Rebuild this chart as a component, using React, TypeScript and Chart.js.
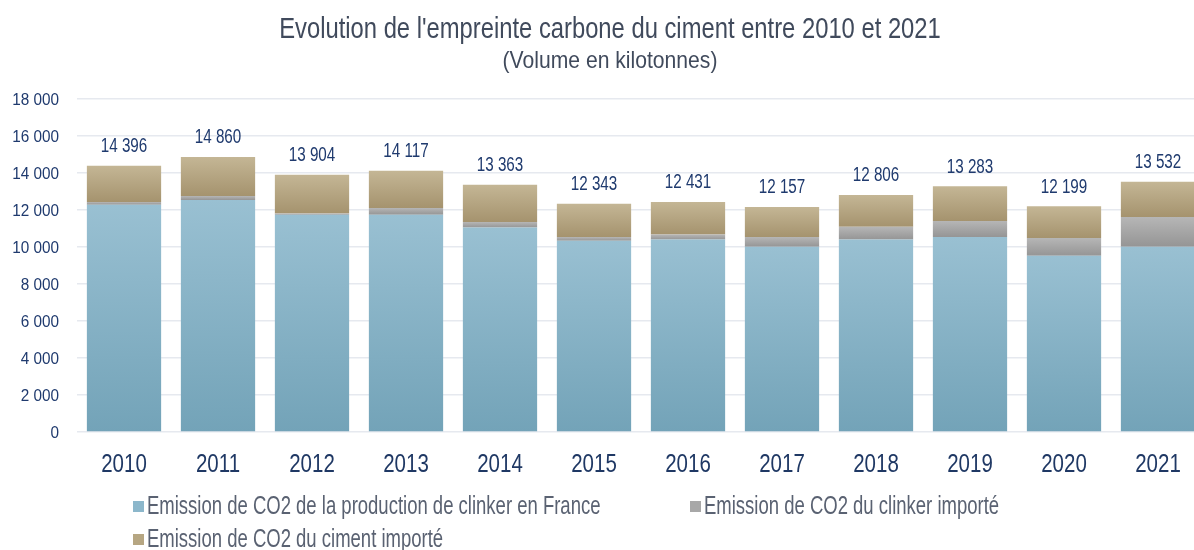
import React, { useEffect, useRef } from "react";
import { Chart, registerables } from "chart.js";

Chart.register(...registerables);

const years = ["2010", "2011", "2012", "2013", "2014", "2015", "2016", "2017", "2018", "2019", "2020", "2021"];
const clinkerFrance = [12290, 12540, 11750, 11750, 11050, 10340, 10400, 10020, 10400, 10540, 9530, 10020];
const clinkerImporte = [140, 220, 60, 360, 300, 200, 270, 520, 700, 870, 960, 1600];
const cimentImporte = [1966, 2100, 2094, 2007, 2013, 1803, 1761, 1617, 1706, 1873, 1709, 1912];
const totals = [14396, 14860, 13904, 14117, 13363, 12343, 12431, 12157, 12806, 13283, 12199, 13532];

const seriesLabels = [
  "Emission de CO2 de la production de clinker en France",
  "Emission de CO2 du clinker importé",
  "Emission de CO2 du ciment importé",
];
const titleText = "Evolution de l'empreinte carbone du ciment entre 2010 et 2021";
const subtitleText = "(Volume en kilotonnes)";

const FONT = '"Liberation Sans", Arial, sans-serif';
const seriesList = [clinkerFrance, clinkerImporte, cimentImporte];
const gradStops = [
  ["#99C0D2", "#73A3B8"],
  ["#B6B6B6", "#959595"],
  ["#C4B695", "#A5936E"],
];
const legendSwatch = ["#8CB7CB", "#A8A8A8", "#B6A682"];

const fmt = (v: number) => String(Math.round(v)).replace(/\B(?=(\d{3})+(?!\d))/g, " ");

function gradient(dsIndex: number) {
  return (ctx: any) => {
    const [top, bottom] = gradStops[dsIndex];
    const chart = ctx.chart;
    const y = chart.scales && chart.scales.y;
    if (!y || ctx.type !== "data") return top;
    const i = ctx.dataIndex;
    let base = 0;
    for (let d = 0; d < dsIndex; d++) base += seriesList[d][i];
    const v = seriesList[dsIndex][i];
    const y0 = y.getPixelForValue(base);
    const y1 = y.getPixelForValue(base + v);
    if (!isFinite(y0) || !isFinite(y1) || y0 === y1) return top;
    const g = chart.ctx.createLinearGradient(0, y1, 0, y0);
    g.addColorStop(0, top);
    g.addColorStop(1, bottom);
    return g;
  };
}

// draw horizontally condensed text (the reference uses a narrow face)
function narrowText(
  ctx: CanvasRenderingContext2D,
  text: string,
  x: number,
  y: number,
  size: number,
  sx: number,
  align: CanvasTextAlign,
  color: string
) {
  ctx.save();
  ctx.translate(x, y);
  ctx.scale(sx, 1);
  ctx.font = `${size}px ${FONT}`;
  ctx.textAlign = align;
  ctx.textBaseline = "middle";
  ctx.fillStyle = color;
  ctx.fillText(text, 0, 0);
  ctx.restore();
}

const decorPlugin = {
  id: "decor",
  afterDraw(chart: any) {
    const ctx = chart.ctx;
    const y = chart.scales.y;
    const x = chart.scales.x;
    // titles
    narrowText(ctx, titleText, 610, 30, 29, 0.82, "center", "#404A5C");
    narrowText(ctx, subtitleText, 610, 61, 24, 0.88, "center", "#404A5C");
    // y tick labels
    y.ticks.forEach((t: any, i: number) => {
      narrowText(ctx, fmt(t.value), 59, y.getPixelForTick(i) + 1, 17, 0.9, "right", "#1F3A6E");
    });
    // x tick labels
    x.ticks.forEach((t: any, i: number) => {
      narrowText(ctx, years[i], x.getPixelForTick(i), 465, 25.6, 0.8, "center", "#1F3864");
    });
    // totals
    totals.forEach((t, i) => {
      let s = 0;
      for (const ser of seriesList) s += ser[i];
      const px = x.getPixelForValue(i);
      const py = y.getPixelForValue(s);
      narrowText(ctx, fmt(t), px, py - 19, 19.5, 0.78, "center", "#1F3A6E");
    });
    // legend
    const items = [
      { x: 133, y: 506 },
      { x: 690, y: 506 },
      { x: 133, y: 539 },
    ];
    items.forEach((it, k) => {
      ctx.save();
      ctx.fillStyle = legendSwatch[k];
      ctx.fillRect(it.x, it.y - 5, 11, 11);
      ctx.restore();
      narrowText(ctx, seriesLabels[k], it.x + 14, it.y + 1, 25, 0.74, "left", "#5A6272");
    });
  },
};

export default function App() {
  const ref = useRef<HTMLCanvasElement | null>(null);
  useEffect(() => {
    if (!ref.current) return;
    const chart = new Chart(ref.current, {
      type: "bar",
      data: {
        labels: years,
        datasets: seriesList.map((d, k) => ({
          label: seriesLabels[k],
          data: d,
          backgroundColor: gradient(k),
          borderWidth: 0,
          barPercentage: 0.79,
          categoryPercentage: 1,
        })),
      },
      options: {
        responsive: false,
        animation: false,
        devicePixelRatio: 1,
        layout: { padding: { left: 0, right: 5, top: 99, bottom: 70 } },
        plugins: {
          legend: { display: false },
          title: { display: false },
          tooltip: { enabled: false },
        },
        scales: {
          x: {
            stacked: true,
            grid: { display: false, drawTicks: false },
            border: { display: false },
            ticks: { display: false },
            afterFit: (s: any) => {
              s.height = 48;
            },
          },
          y: {
            stacked: true,
            min: 0,
            max: 18000,
            grid: { color: "#E6E9EF", lineWidth: 1.5, drawTicks: false },
            border: { display: false },
            afterFit: (s: any) => {
              s.width = 77;
            },
            ticks: {
              display: false,
              stepSize: 2000,
            },
          },
        },
      },
      plugins: [decorPlugin],
    });
    return () => chart.destroy();
  }, []);
  return (
    <div style={{ position: "absolute", left: 0, top: 0, width: 1194, height: 550, overflow: "hidden", background: "#fff" }}>
      <canvas ref={ref} width={1210} height={550} style={{ width: 1210, height: 550, display: "block" }} />
    </div>
  );
}
